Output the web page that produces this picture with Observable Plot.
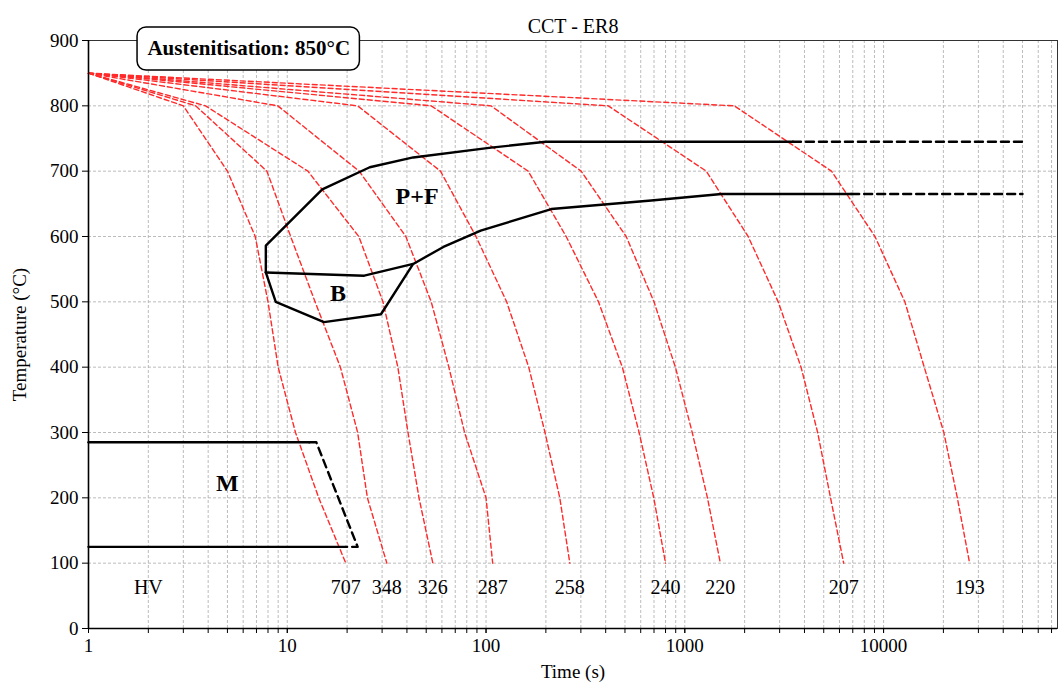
<!DOCTYPE html>
<html>
<head>
<meta charset="utf-8">
<script src="https://cdn.jsdelivr.net/npm/d3@7"></script>
<script src="https://cdn.jsdelivr.net/npm/@observablehq/plot@0.6"></script>
<style>
  html, body { margin: 0; padding: 0; background: white; }
</style>
</head>
<body>
<div id="chart"></div>
<script>
// ---- Data ----
const title = "CCT - ER8";
const temperatures = [850, 800, 700, 600, 500, 400, 300, 200, 100];
const hardness = [707, 348, 326, 287, 258, 240, 220, 207, 193];
// times (s) at which each cooling curve reaches the temperatures above
const curve707 = [1, 3, 5, 6.9, 8, 9, 11, 14.4, 19.7];
const curve348 = [1, 3.46, 7.9, 10.4, 13.8, 18.5, 22.6, 25.3, 31.7];
const curve326 = [1, 3.88, 12.7, 22.9, 30.3, 36, 40.5, 46, 54];
const curve287 = [1, 8.96, 23, 39.5, 53, 65, 78, 100, 108];
const curve258 = [1, 22.6, 59, 89, 127, 164, 198, 235, 264];
const curve240 = [1, 53, 163, 253, 368, 485, 589, 698, 800];
const curve220 = [1, 106, 301, 507, 700, 897, 1090, 1300, 1510];
const curve207 = [1, 412, 1283, 2083, 2950, 3845, 4660, 5410, 6300];
const curve193 = [1, 1775, 5470, 9050, 12800, 16020, 20100, 23500, 27100];
const curves = [curve707, curve348, curve326, curve287, curve258, curve240, curve220, curve207, curve193];

// phase boundaries: [time, temperature]
const pfStart = [[7.8, 545], [7.8, 586], [15, 672], [26, 706], [43, 721], [106, 736], [200, 745], [3500, 745]];
const pfStartExtrap = [[3500, 745], [50000, 745]];
const pfEnd = [[7.8, 545], [24.4, 540], [43, 558], [61, 584], [94, 609], [213, 642], [678, 655], [1530, 665], [6870, 665]];
const pfEndExtrap = [[6870, 665], [50000, 665]];
const bainiteLower = [[7.8, 545], [8.75, 500], [15.3, 469], [29.6, 481], [43, 558]];
const msLine = [[1, 285], [12.9, 285]];
const mfLine = [[1, 125], [19.7, 125]];
const martensiteDashed = [[12.9, 285], [14, 285], [22.6, 125], [19.7, 125]];

const regionNames = ["P+F", "B", "M"];
const regionTimes = [45, 18, 5];
const regionTemps = [661, 513, 222];

const hvTitle = "HV";
const hvTime = 2;
const hvTemp = 63;

const annotationText = "Austenitisation: 850°C";
const annotationBox = {x1: 1.765, x2: 23.2, y1: 854, y2: 920, tx: 6.4, ty: 888};

const xMajorTicks = [1, 10, 100, 1000, 10000];
const yTicks = [0, 100, 200, 300, 400, 500, 600, 700, 800, 900];
const xMax = 75000;

// ---- Derived tables ----
const coolingRows = [];
curves.forEach((times, i) => {
  times.forEach((t, j) => coolingRows.push({curve: hardness[i], t, T: temperatures[j]}));
});
const hvRows = curves.map((times, i) => ({t: times[times.length - 1], T: hvTemp, label: String(hardness[i])}));
hvRows.push({t: hvTime, T: hvTemp, label: hvTitle});
const regionRows = regionNames.map((n, i) => ({name: n, t: regionTimes[i], T: regionTemps[i]}));

const minorTicks = [];
for (let k = 0; k <= 4; k++) for (let m = 1; m <= 9; m++) {
  const v = m * Math.pow(10, k);
  if (v <= xMax) minorTicks.push(v);
}
const gridX = minorTicks.filter(v => v > 1);
const gridY = yTicks.filter(v => v > 0 && v < 900);

const px = d => d[0], py = d => d[1];
const black = {x: px, y: py, stroke: "black", strokeWidth: 2.4};
const blackDash = {...black, strokeDasharray: "8,5"};

const chart = Plot.plot({
  width: 1059,
  height: 688,
  marginLeft: 88,
  marginRight: 2,
  marginTop: 40,
  marginBottom: 60,
  x: {type: "log", domain: [1, xMax]},
  y: {domain: [0, 900]},
  style: {fontFamily: "'Liberation Serif', 'Times New Roman', serif", fontSize: "19px", color: "black", background: "white"},
  marks: [
    Plot.ruleX(gridX, {stroke: "#b4b4b4", strokeWidth: 0.9, strokeDasharray: "3,2"}),
    Plot.ruleY(gridY, {stroke: "#b4b4b4", strokeWidth: 0.9, strokeDasharray: "3,2"}),
    Plot.frame({stroke: "#333", strokeWidth: 1}),
    Plot.line(coolingRows, {x: "t", y: "T", z: "curve", stroke: "#ff2a2a", strokeWidth: 1.4, strokeDasharray: "5,3"}),
    Plot.line(pfStart, black),
    Plot.line(pfEnd, black),
    Plot.line(bainiteLower, black),
    Plot.line(msLine, black),
    Plot.line(mfLine, black),
    Plot.line(pfStartExtrap, blackDash),
    Plot.line(pfEndExtrap, blackDash),
    Plot.line(martensiteDashed, blackDash),
    Plot.text(regionRows, {x: "t", y: "T", text: "name", fontWeight: "bold", fontSize: 24}),
    Plot.text(hvRows, {x: "t", y: "T", text: "label", fontSize: 20}),
    Plot.rect([annotationBox], {x1: "x1", x2: "x2", y1: "y1", y2: "y2", rx: 9, fill: "white", stroke: "black", strokeWidth: 1.5}),
    Plot.text([annotationBox], {x: "tx", y: "ty", text: () => annotationText, fontWeight: "bold", fontSize: 21}),
    Plot.ruleX([1], {stroke: "black", strokeWidth: 1.6}),
    Plot.ruleY([0], {stroke: "black", strokeWidth: 1.6}),
    Plot.axisX(minorTicks, {tickSize: 5, tickFormat: () => "", label: null, stroke: "black"}),
    Plot.axisX(xMajorTicks, {tickSize: 5, tickPadding: 5, tickFormat: d => String(d), label: null, fontSize: 19}),
    Plot.axisY(yTicks, {tickSize: 6, tickPadding: 4, label: null, fontSize: 19}),
    Plot.text([title], {frameAnchor: "top", dy: -22, fontSize: 20}),
    Plot.text(["Time (s)"], {frameAnchor: "bottom", dy: 49, fontSize: 19}),
    Plot.text(["Temperature (°C)"], {frameAnchor: "left", textAnchor: "middle", dx: -69, rotate: -90, fontSize: 19})
  ]
});
document.getElementById("chart").appendChild(chart);
</script>
</body>
</html>
